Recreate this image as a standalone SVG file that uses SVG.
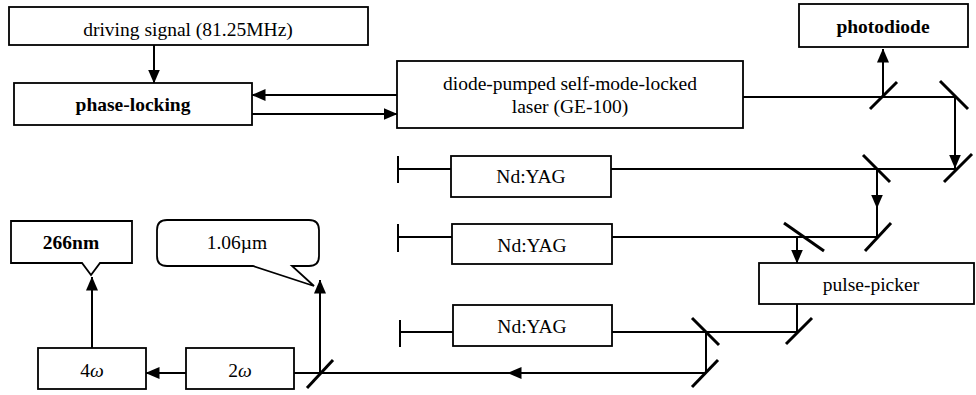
<svg xmlns="http://www.w3.org/2000/svg" width="976" height="395" viewBox="0 0 976 395">
<style>
.box{fill:#fff;stroke:#000;stroke-width:1.8}
.ln{fill:none;stroke:#000;stroke-width:2}
.mir{fill:none;stroke:#000;stroke-width:3}
.t{font-family:"Liberation Serif","Times New Roman",serif;font-size:19.5px;fill:#000;text-anchor:middle}
.b{font-weight:bold}
</style>
<defs>
<marker id="ah" viewBox="0 0 14 12" refX="13.5" refY="6" markerWidth="14" markerHeight="12" markerUnits="userSpaceOnUse" orient="auto">
<path d="M0,0 L14,6 L0,12 Z" fill="#000"/>
</marker>
</defs>
<rect width="976" height="395" fill="#fff"/>

<g id="driving-signal">
<rect class="box" x="9" y="7" width="359" height="38"/>
<text class="t" x="188" y="36">driving signal (81.25MHz)</text>
</g>
<g id="phase-locking">
<rect class="box" x="14" y="83" width="238" height="42"/>
<text class="t b" x="133" y="111">phase-locking</text>
</g>
<g id="laser">
<rect class="box" x="397" y="61" width="346" height="67"/>
<text class="t" x="570" y="90">diode-pumped self-mode-locked</text>
<text class="t" x="570" y="113">laser (GE-100)</text>
</g>
<g id="photodiode">
<rect class="box" x="799" y="4" width="169" height="43"/>
<text class="t b" x="883" y="33">photodiode</text>
</g>
<g id="ndyag1">
<rect class="box" x="451" y="156" width="160" height="41"/>
<text class="t" x="531" y="183">Nd:YAG</text>
</g>
<g id="ndyag2">
<rect class="box" x="452" y="224" width="160" height="40"/>
<text class="t" x="532" y="252">Nd:YAG</text>
</g>
<g id="ndyag3">
<rect class="box" x="453" y="305" width="159" height="41"/>
<text class="t" x="532" y="333">Nd:YAG</text>
</g>
<g id="pulse-picker">
<rect class="box" x="759" y="263" width="215" height="41"/>
<text class="t" x="871" y="291">pulse-picker</text>
</g>
<g id="four-omega">
<rect class="box" x="38" y="348" width="108" height="41"/>
<text class="t" x="92" y="377">4<tspan font-style="italic">ω</tspan></text>
</g>
<g id="two-omega">
<rect class="box" x="186" y="348" width="108" height="41"/>
<text class="t" x="240" y="377">2<tspan font-style="italic">ω</tspan></text>
</g>
<g id="callout-266">
<path class="box" d="M11,221 H132 V263 H100 L91,275 L82,263 H11 Z"/>
<text class="t b" x="71" y="249">266nm</text>
</g>
<g id="callout-106">
<path class="box" d="M167,220 H309 Q319,220 319,230 V256 Q319,266 309,266 H292 L314,286 L253,266 H167 Q157,266 157,256 V230 Q157,220 167,220 Z"/>
<text class="t" x="237" y="249">1.06µm</text>
</g>

<g id="connectors">
<path class="ln" d="M154,45 V83" marker-end="url(#ah)"/>
<path class="ln" d="M397,95 H252" marker-end="url(#ah)"/>
<path class="ln" d="M252,114 H397" marker-end="url(#ah)"/>
<path class="ln" d="M743,97 H955"/>
<path class="ln" d="M883,97 V49" marker-end="url(#ah)"/>
<path class="ln" d="M955,97 V168" marker-end="url(#ah)"/>
<path class="ln" d="M398,156 V183 M398,169 H451"/>
<path class="ln" d="M611,169 H957"/>
<path class="ln" d="M877,169 V208" marker-end="url(#ah)"/>
<path class="ln" d="M877,207 V237"/>
<path class="ln" d="M398,224 V252 M398,237 H452"/>
<path class="ln" d="M612,237 H878"/>
<path class="ln" d="M797,237 V263" marker-end="url(#ah)"/>
<path class="ln" d="M797,304 V332"/>
<path class="ln" d="M400,320 V347 M400,332 H453"/>
<path class="ln" d="M612,332 H798"/>
<path class="ln" d="M706,332 V373"/>
<path class="ln" d="M706,373 H508" marker-end="url(#ah)"/>
<path class="ln" d="M509,373 H294"/>
<path class="ln" d="M320,373 V280" marker-end="url(#ah)"/>
<path class="ln" d="M186,373 H146" marker-end="url(#ah)"/>
<path class="ln" d="M92,348 V277" marker-end="url(#ah)"/>
<path class="mir" d="M870,109 L897,82"/>
<path class="mir" d="M940,81 L968,109"/>
<path class="mir" d="M944,182 L972,154"/>
<path class="mir" d="M863,155 L890,182"/>
<path class="mir" d="M865,251 L891,223"/>
<path class="mir" d="M784,223 L824,251"/>
<path class="mir" d="M786,344 L812,318"/>
<path class="mir" d="M692,318 L719,345"/>
<path class="mir" d="M692,387 L718,360"/>
<path class="mir" d="M307,388 L333,360"/>
</g>
</svg>
